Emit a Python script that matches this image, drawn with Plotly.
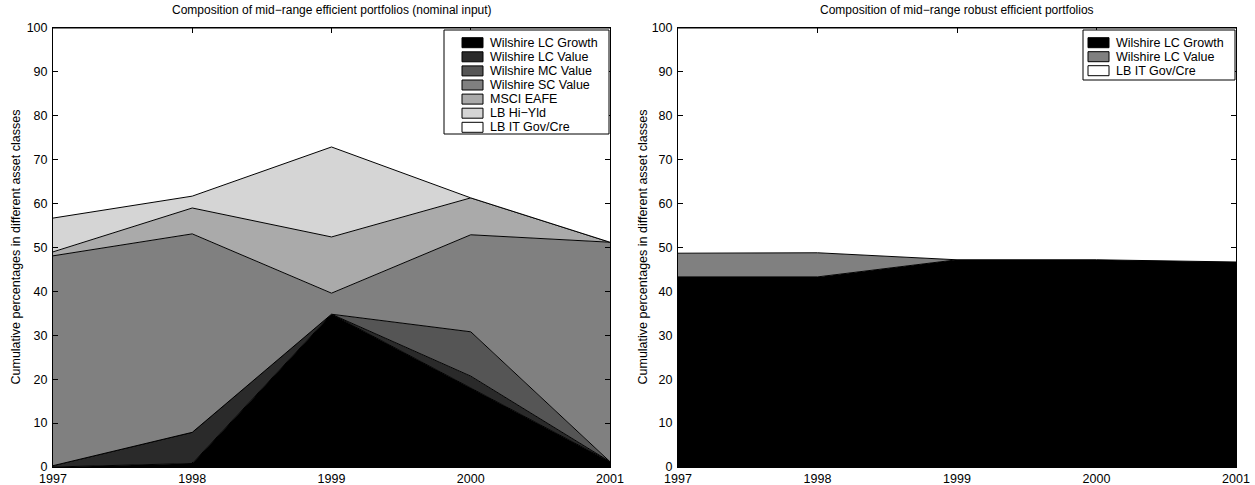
import plotly.graph_objects as go

years = [1997, 1998, 1999, 2000, 2001]

left_names = ["Wilshire LC Growth", "Wilshire LC Value", "Wilshire MC Value",
              "Wilshire SC Value", "MSCI EAFE", "LB Hi\u2212Yld", "LB IT Gov/Cre"]
lc_growth = [0.0, 0.8, 34.8, 18.0, 1.2]
lc_value = [0.3, 7.1, 0.0, 2.7, 0.0]
mc_value = [0.0, 0.0, 0.0, 10.1, 0.0]
sc_value = [47.8, 45.2, 4.8, 22.1, 50.0]
msci_eafe = [0.9, 5.9, 12.8, 8.4, 0.0]
lb_hiyld = [7.7, 2.7, 20.5, 0.0, 0.0]
lb_itgov = [43.3, 38.3, 27.1, 38.7, 48.8]
left_series = [lc_growth, lc_value, mc_value, sc_value, msci_eafe, lb_hiyld, lb_itgov]
left_colors = ["#000000", "#2a2a2a", "#555555", "#808080", "#aaaaaa", "#d5d5d5", "#ffffff"]

right_names = ["Wilshire LC Growth", "Wilshire LC Value", "LB IT Gov/Cre"]
r_lc_growth = [43.3, 43.3, 47.2, 47.2, 46.7]
r_lc_value = [5.4, 5.5, 0.0, 0.0, 0.0]
r_lb_itgov = [51.3, 51.2, 52.8, 52.8, 53.3]
right_series = [r_lc_growth, r_lc_value, r_lb_itgov]
right_colors = ["#000000", "#808080", "#ffffff"]

titles = ["Composition of mid\u2212range efficient portfolios (nominal input)",
          "Composition of mid\u2212range robust efficient portfolios"]
ytitle = "Cumulative percentages in different asset classes"

FONT = "Liberation Sans, Arial, Helvetica, sans-serif"

fig = go.Figure()
for name, vals, col in zip(left_names, left_series, left_colors):
    fig.add_trace(go.Scatter(x=years, y=vals, name=name, stackgroup="left",
                             mode="lines", line=dict(color="black", width=1),
                             fillcolor=col, xaxis="x", yaxis="y", showlegend=False))
for name, vals, col in zip(right_names, right_series, right_colors):
    fig.add_trace(go.Scatter(x=years, y=vals, name=name, stackgroup="right",
                             mode="lines", line=dict(color="black", width=1),
                             fillcolor=col, xaxis="x2", yaxis="y2", showlegend=False))

W, H = 1255, 485
ml, mr, mt, mb = 53, 19, 28, 18
pw = W - ml - mr
ph = H - mt - mb
d1 = (610 - ml) / pw
d2 = (678 - ml) / pw


def px(x):
    return (x - ml) / pw


def py(y):
    return (H - mb - y) / ph


axis_common = dict(showline=True, linecolor="black", linewidth=1, mirror="ticks",
                   ticks="inside", ticklen=5, tickcolor="black", showgrid=False,
                   zeroline=False, automargin=False,
                   tickfont=dict(family=FONT, size=12.5, color="black"))

fig.update_layout(
    width=W, height=H,
    margin=dict(l=ml, r=mr, t=mt, b=mb),
    paper_bgcolor="white", plot_bgcolor="white",
    font=dict(family=FONT, size=12.5, color="black"),
    xaxis=dict(domain=[0, d1], range=[1997, 2001], tickvals=years, ticklabelstandoff=0, **axis_common),
    yaxis=dict(domain=[0, 1], range=[0, 100], dtick=10, anchor="x", ticklabelstandoff=2, **axis_common),
    xaxis2=dict(domain=[d2, 1], range=[1997, 2001], tickvals=years, anchor="y2", ticklabelstandoff=0, **axis_common),
    yaxis2=dict(domain=[0, 1], range=[0, 100], dtick=10, anchor="x2", ticklabelstandoff=2, **axis_common),
    showlegend=False,
)

ann = []
shapes = []
for t, xd in zip(titles, [(0, d1), (d2, 1)]):
    ann.append(dict(text=t, x=(xd[0] + xd[1]) / 2, y=1, xref="paper", yref="paper",
                    xanchor="center", yanchor="bottom", yshift=9, showarrow=False,
                    font=dict(family=FONT, size=12, color="black")))
for xp, sh in [(0, -38), (d2, -36)]:
    ann.append(dict(text=ytitle, x=xp, y=0.5, xref="paper", yref="paper", textangle=-90,
                    xanchor="center", yanchor="middle", xshift=sh, showarrow=False,
                    font=dict(family=FONT, size=12.5, color="black")))


def add_legend(names, colors, box, sw_x0, txt_x, row0, step):
    bx0, by0, bx1, by1 = box
    shapes.append(dict(type="rect", xref="paper", yref="paper", x0=px(bx0), x1=px(bx1),
                       y0=py(by1), y1=py(by0), fillcolor="white",
                       line=dict(color="black", width=1), layer="above"))
    for i, (n, c) in enumerate(zip(names, colors)):
        cy = row0 + i * step
        shapes.append(dict(type="rect", xref="paper", yref="paper",
                           x0=px(sw_x0), x1=px(sw_x0 + 21), y0=py(cy + 5), y1=py(cy - 5),
                           fillcolor=c, line=dict(color="black", width=1), layer="above"))
        ann.append(dict(text=n, x=px(txt_x), y=py(cy), xref="paper", yref="paper",
                        xanchor="left", yanchor="middle", showarrow=False,
                        font=dict(family=FONT, size=12.5, color="black")))


add_legend(left_names, left_colors, (444, 30, 609, 134), 462, 488, 42.7, 14.1)
add_legend(right_names, right_colors, (1083, 30, 1235, 80), 1088, 1114, 42.7, 14.0)

fig.update_layout(annotations=ann, shapes=shapes)

fig.write_html("out.html")
